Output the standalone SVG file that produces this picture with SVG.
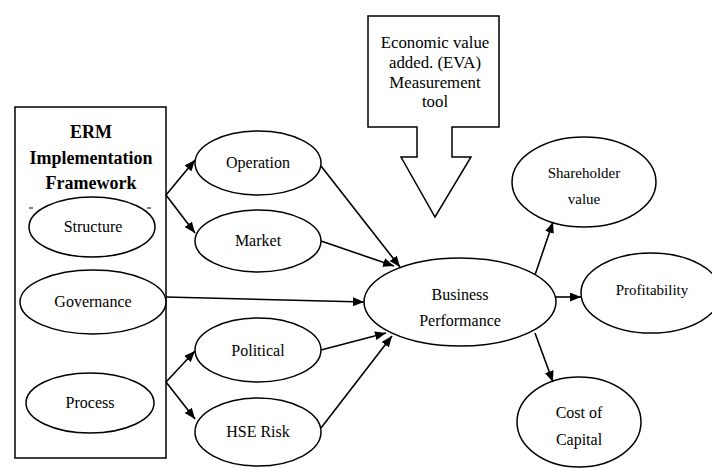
<svg xmlns="http://www.w3.org/2000/svg" width="712" height="468" viewBox="0 0 712 468">
<defs>
<marker id="ah" markerUnits="userSpaceOnUse" markerWidth="11" markerHeight="9" refX="11" refY="4.5" orient="auto">
<path d="M0,0 L11,4.5 L0,9 z" fill="#000"/>
</marker>
<style>
.shape{fill:#fff;stroke:#000;stroke-width:1.5}
text{font-family:'Liberation Serif','DejaVu Serif',serif;font-size:16px;fill:#000;text-anchor:middle}
.b{font-weight:bold;font-size:18px}
.e{font-size:16.8px}
.s{font-size:15px}
.c{fill:none;stroke:#000;stroke-width:1.6;marker-end:url(#ah)}
</style>
</defs>
<rect width="712" height="468" fill="#fff"/>

<g id="erm-framework">
<rect class="shape" x="15" y="107" width="151" height="351" stroke="#333"/>
<text class="b" x="91" y="138">ERM</text>
<text class="b" x="91" y="164">Implementation</text>
<text class="b" x="91" y="189">Framework</text>
<path d="M29,208 h4 M147,208 h4" stroke="#000" stroke-width="1.2"/>
</g>

<g id="structure">
<ellipse class="shape" cx="92" cy="227" rx="63" ry="30"/>
<text x="93" y="232">Structure</text>
</g>
<g id="governance">
<ellipse class="shape" cx="93" cy="302" rx="73" ry="32"/>
<text x="93" y="307">Governance</text>
</g>
<g id="process">
<ellipse class="shape" cx="90" cy="403" rx="64" ry="30"/>
<text x="90" y="408">Process</text>
</g>

<g id="operation">
<ellipse class="shape" cx="258" cy="163" rx="63" ry="32"/>
<text x="258" y="168">Operation</text>
</g>
<g id="market">
<ellipse class="shape" cx="258" cy="241" rx="63" ry="31"/>
<text x="258" y="246">Market</text>
</g>
<g id="political">
<ellipse class="shape" cx="258" cy="350" rx="63" ry="32"/>
<text x="258" y="356">Political</text>
</g>
<g id="hse-risk">
<ellipse class="shape" cx="258" cy="432" rx="63" ry="34"/>
<text x="258" y="437">HSE Risk</text>
</g>

<g id="eva-tool">
<path class="shape" d="M368,16 H499 V127 H452 V157 H471 L435,217 L401,157 H417 V127 H368 Z"/>
<text class="e" x="435" y="48">Economic value</text>
<text class="e" x="435" y="68">added. (EVA)</text>
<text class="e" x="435" y="88">Measurement</text>
<text class="e" x="435" y="107">tool</text>
</g>

<g id="business-performance">
<ellipse class="shape" cx="460" cy="302" rx="96" ry="44"/>
<text x="460" y="300">Business</text>
<text x="460" y="326">Performance</text>
</g>

<g id="shareholder-value">
<ellipse class="shape" cx="584" cy="182" rx="72" ry="45"/>
<text class="s" x="584" y="178">Shareholder</text>
<text class="s" x="584" y="204">value</text>
</g>
<g id="profitability">
<ellipse class="shape" cx="651" cy="293" rx="70" ry="40"/>
<text class="s" x="652" y="295">Profitability</text>
</g>
<g id="cost-of-capital">
<ellipse class="shape" cx="579" cy="422" rx="62" ry="45"/>
<text x="579" y="418">Cost of</text>
<text x="579" y="445">Capital</text>
</g>

<g id="connectors">
<path class="c" d="M166,195 L195,160"/>
<path class="c" d="M166,195 L195,233"/>
<path class="c" d="M166,382 L195,351"/>
<path class="c" d="M166,382 L195,419"/>
<path class="c" d="M321,166 L400,267"/>
<path class="c" d="M321,241 L394,266"/>
<path class="c" d="M166,297 L364,302"/>
<path class="c" d="M321,350 L386,333"/>
<path class="c" d="M321,428 L392,336"/>
<path class="c" d="M535,275 L553,222"/>
<path class="c" d="M555,297 L581,297"/>
<path class="c" d="M535,333 L553,382"/>
</g>
</svg>
